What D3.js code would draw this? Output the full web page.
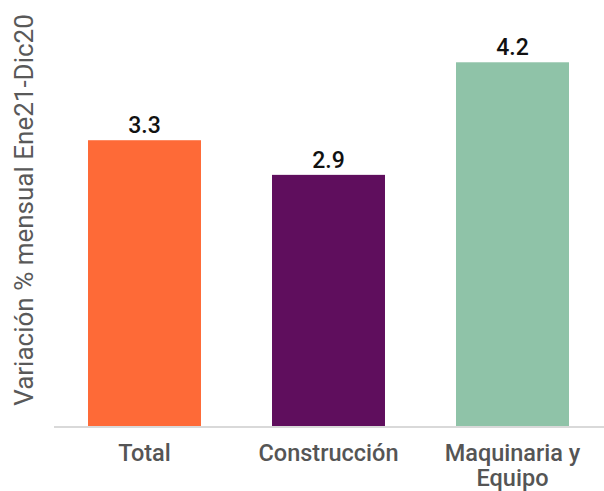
<!DOCTYPE html>
<html><head><meta charset="utf-8">
<script src="https://cdn.jsdelivr.net/npm/d3@7"></script>
<style>body{margin:0;background:#fff}svg{display:block}</style>
</head><body>
<svg id="c" width="604" height="491"></svg>
<script>
const categories = ["Total", "Construcción", "Maquinaria y\nEquipo"];
const values = [3.3, 2.9, 4.2];
const labels = ["3.3", "2.9", "4.2"];
const colors = ["#FE6A37", "#5F0E5D", "#8FC3A8"];
const yTitle = "Variación % mensual Ene21-Dic20";

const svg = d3.select("#c");
const x = d3.scaleBand().domain(categories).range([52.5, 604.5]).paddingInner(0.386).paddingOuter(0.193);
const y = d3.scaleLinear().domain([0, 4.5]).range([426, 36.3]);

svg.selectAll("rect.bar").data(values).join("rect")
  .attr("class","bar")
  .attr("x",(d,i)=>x(categories[i]))
  .attr("width",x.bandwidth())
  .attr("y",d=>y(d))
  .attr("height",d=>y(0)-y(d))
  .attr("fill",(d,i)=>colors[i]);

svg.append("line").attr("x1",54).attr("x2",604).attr("y1",y(0)+1).attr("y2",y(0)+1)
  .attr("stroke","#d9d9d9").attr("stroke-width",2);

svg.selectAll("text.val").data(values).join("text")
  .attr("class","val")
  .attr("x",(d,i)=>x(categories[i])+x.bandwidth()/2)
  .attr("y",d=>y(d)-7)
  .attr("text-anchor","middle")
  .attr("font-family","Roboto").attr("font-weight",500).attr("font-size",23)
  .attr("fill","#111")
  .text((d,i)=>labels[i]);

const cat = svg.selectAll("text.cat").data(categories).join("text")
  .attr("class","cat")
  .attr("text-anchor","middle")
  .attr("font-family","Roboto").attr("font-weight",500).attr("font-size",23.5)
  .attr("fill","#555");
cat.each(function(d){
  const t = d3.select(this);
  d.split("\n").forEach((line,j)=>{
    t.append("tspan").attr("x",x(d)+x.bandwidth()/2).attr("y",461+j*25).text(line);
  });
});

svg.append("text")
  .attr("transform","translate(33,210) rotate(-90)")
  .attr("text-anchor","middle")
  .attr("font-family","Roboto").attr("font-size",26)
  .attr("fill","#595959")
  .text(yTitle);
</script>
</body></html>
